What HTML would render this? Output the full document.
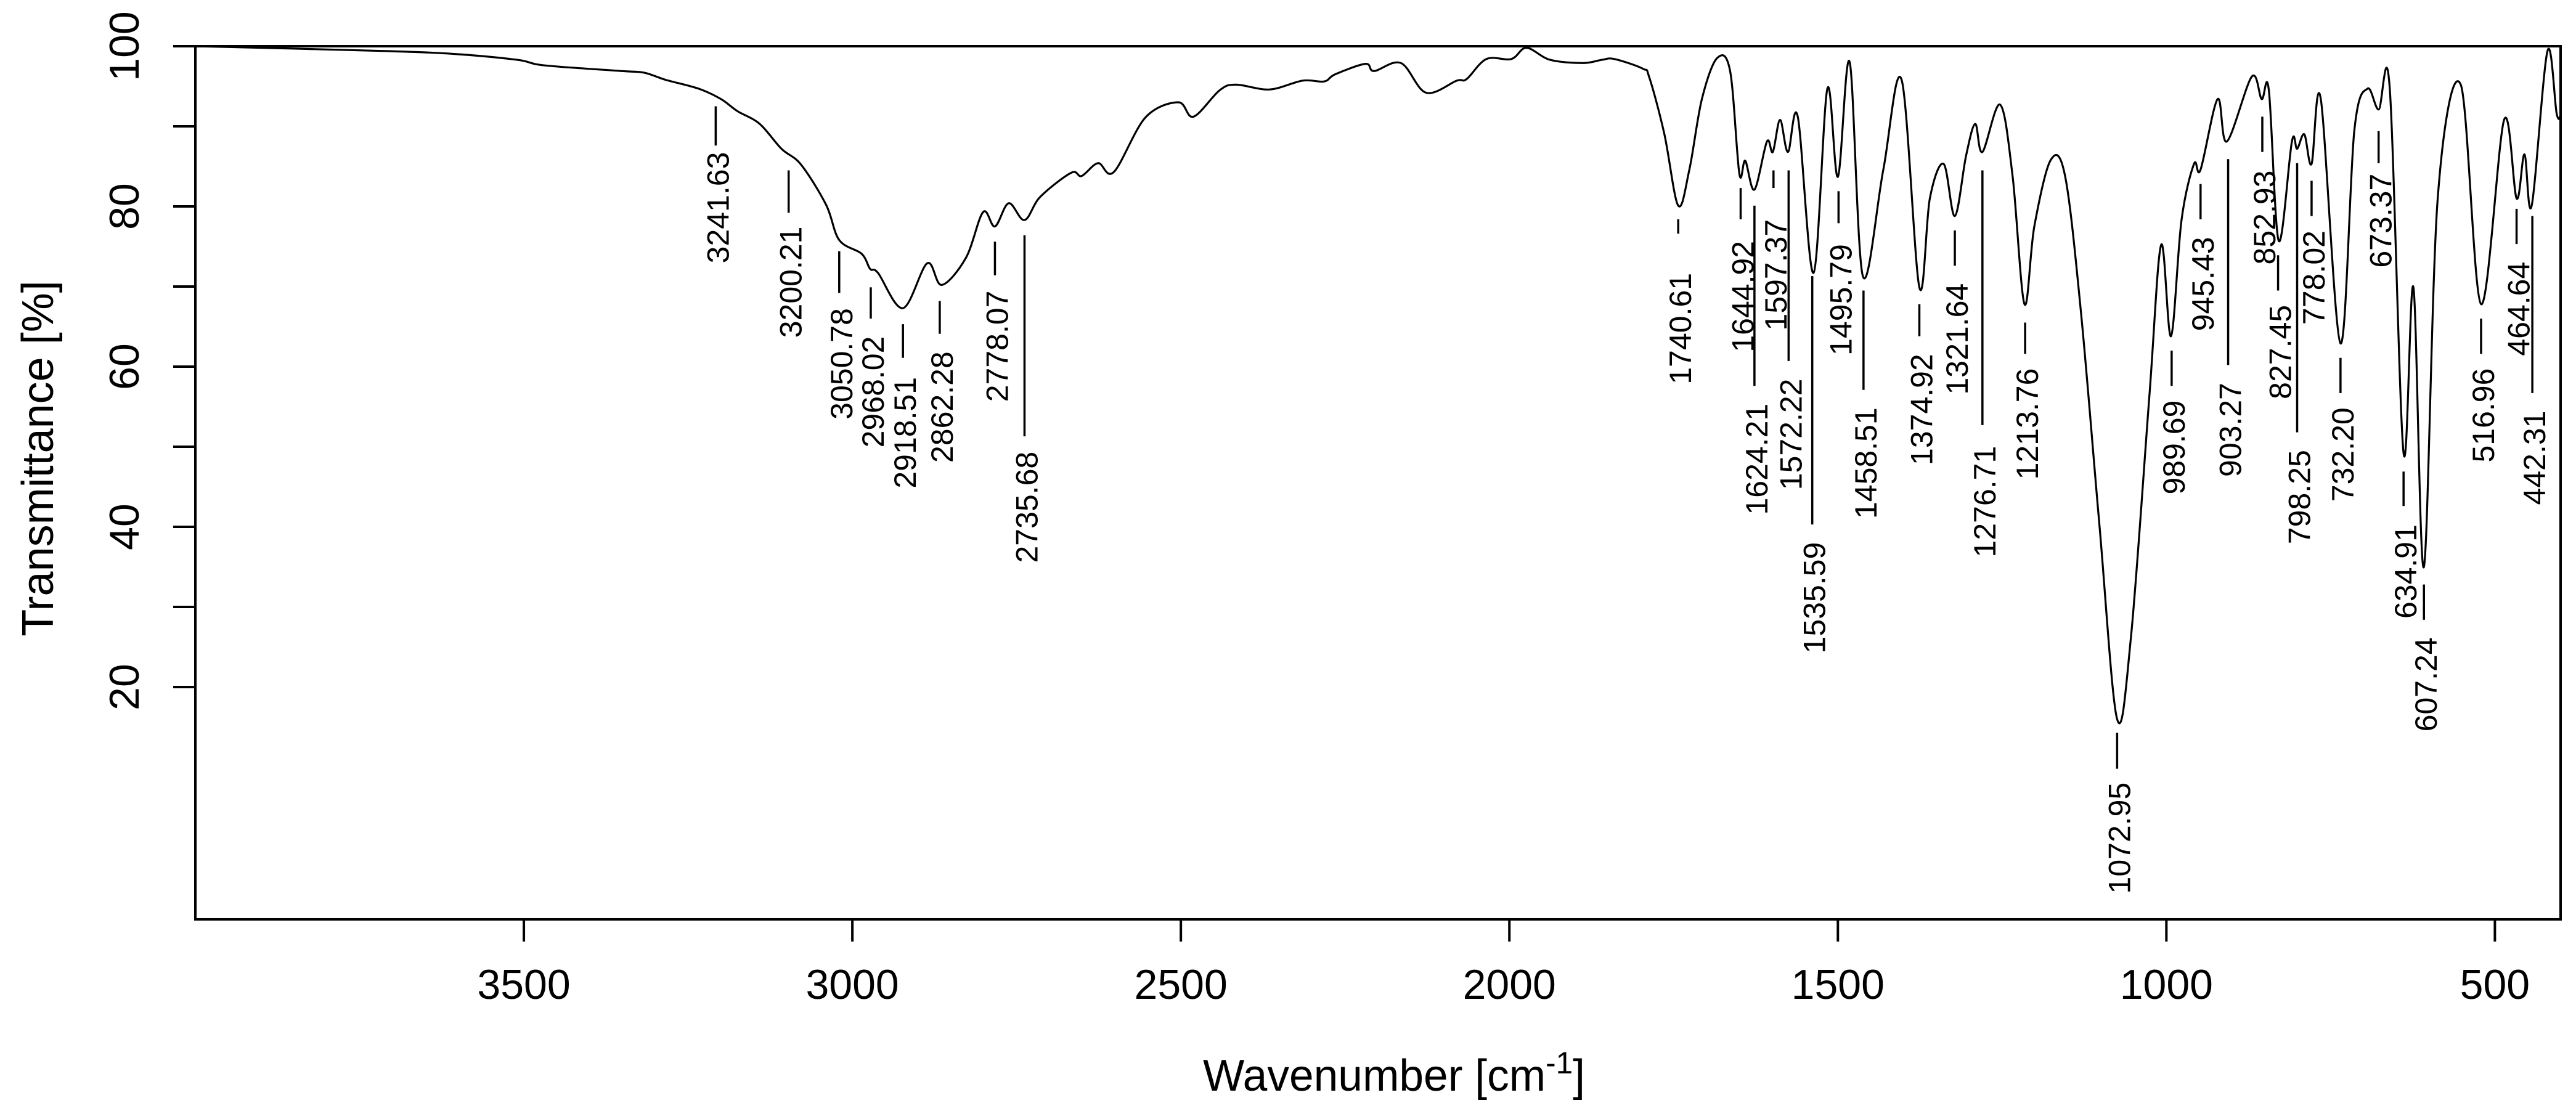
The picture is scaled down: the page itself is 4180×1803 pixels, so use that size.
<!DOCTYPE html>
<html><head><meta charset="utf-8"><style>
html,body{margin:0;padding:0;background:#fff;}
svg{display:block;font-family:"Liberation Sans",Arial,sans-serif;}
</style></head><body>
<svg id="chart" width="4180" height="1803" viewBox="0 0 4180 1803" xmlns="http://www.w3.org/2000/svg">
<rect width="4180" height="1803" fill="#fff"/>
<g id="plot"></g>
</svg>
<script>
// spectrum data: wavenumber [cm-1] and transmittance [%]
const specWn = [4000,3711,3600,3510,3468,3351,3317,3284,3234,3200,3175,3141,3108,3078,3040,3020,2986,2973,2961,2923,2886,2864,2827,2801,2783,2762,2738,2714,2667,2651,2626,2602,2554,2504,2481,2441,2416,2365,2315,2282,2265,2219,2206,2165,2127,2080,2065,2035,1997,1974,1938,1888,1859,1840,1797,1787,1764,1743,1726,1707,1684,1664,1650,1641,1627,1608,1599,1588,1576,1561,1537,1516,1500,1482,1462,1431,1403,1376,1360,1339,1322,1305,1291,1280,1253,1234,1216,1201,1176,1154,1130,1102,1075,1054,1026,1008,993,977,958,948,922,908,870,855,844,829,809,801,790,779,765,735,714,694,677,660,639,624,608,587,552,521,486,467,455,444,420,406,400];
const specT = [100,99.4,99.0,98.3,97.6,96.9,96.7,95.8,94.7,93.4,91.9,90.3,87.2,85.2,80.2,75.8,74.1,72.2,71.7,67.3,72.9,70.2,73.6,79.3,77.5,80.4,78.3,81.2,84.2,83.8,85.4,84.3,91.1,93.0,91.2,94.5,95.2,94.6,95.7,95.6,96.5,97.8,96.9,97.9,94.2,95.7,95.9,98.4,98.4,99.8,98.3,97.9,98.3,98.4,97.2,96.1,89.0,80.1,84.6,93.4,98.5,96.9,84.1,85.7,82.1,88.1,86.8,90.8,86.8,91.2,71.7,94.7,83.7,98.0,71.3,84.5,95.8,69.9,81.0,85.3,78.8,86.3,90.3,86.8,92.7,83.7,67.8,77.5,85.8,83.7,66.8,40.3,16.0,26.2,56.2,75.2,63.8,78.3,85.3,84.6,93.4,88.1,96.2,93.4,94.5,75.7,88.1,87.2,89.0,85.3,93.4,62.9,89.4,94.7,92.1,94.7,49.2,69.9,35.0,81.0,95.2,67.8,90.8,81.0,86.5,80.1,99.4,91.6,91.3];
// peak annotations
const peakLabels = ["3241.63","3200.21","3050.78","2968.02","2918.51","2862.28","2778.07","2735.68","1740.61","1644.92","1624.21","1597.37","1572.22","1535.59","1495.79","1458.51","1374.92","1321.64","1276.71","1213.76","1072.95","989.69","945.43","903.27","852.93","827.45","798.25","778.02","732.20","673.37","634.91","607.24","516.96","464.64","442.31"];
const peakWn = [3208,3097,3020,2972,2923,2867,2783,2738,1743,1648,1627,1598,1575,1539,1499,1461,1376,1322,1280,1215,1075,992,948,906,854,830,801,779,735,677,639,608,521,467,443];
const lineTopT = [92.5,84.5,74.4,69.9,65.3,68.2,75.6,76.4,78.4,82.3,80.1,84.5,84.5,71.3,81.9,69.5,67.8,77.0,84.5,65.5,14.3,62.0,82.8,85.9,91.2,73.9,85.4,83.2,61.1,89.4,46.9,32.8,66.0,79.7,78.8];
const lineBotT = [87.6,79.2,69.2,66.0,61.1,64.1,71.4,51.3,76.6,78.4,57.6,82.3,60.7,40.3,77.9,57.1,63.8,72.6,52.7,61.6,9.8,57.6,78.4,60.2,86.8,69.5,51.8,78.8,56.7,85.4,42.6,28.4,61.6,75.3,56.7];
const textTopT = [86.8,77.5,67.3,63.8,58.7,61.9,69.5,49.4,71.7,75.7,55.4,78.4,58.5,38.1,75.3,54.9,61.6,70.4,50.1,59.8,8.1,55.8,76.2,58.0,84.5,67.7,49.6,77.0,54.9,84.1,40.3,26.2,59.8,73.1,54.5];
const xTicks = [3500,3000,2500,2000,1500,1000,500];
const yTicks = [20,30,40,50,60,70,80,90,100];
const yTickLabels = [20,40,60,80,100];

const NS="http://www.w3.org/2000/svg";
const L=317,R=4155,T0=75,B=1492;
const X=wn=>L+(4000-wn)*(R-L)/3600;
const Y=t=>T0+(100-t)*(B-T0)/109;
const g=document.getElementById('plot');
function mk(tag,attrs){const e=document.createElementNS(NS,tag);for(const k in attrs)e.setAttribute(k,attrs[k]);g.appendChild(e);return e;}

const box=mk('rect',{x:L,y:T0,width:R-L,height:B-T0,fill:'none',stroke:'#000','stroke-width':4});



xTicks.forEach(v=>{
  const t=mk('line',{x1:X(v),x2:X(v),y1:B,y2:B+36,stroke:'#000','stroke-width':4});
  
  
  const tx=mk('text',{x:X(v),y:1621,'font-size':68,'text-anchor':'middle',fill:'#000'});
  tx.textContent=v;
  
  
});
yTicks.forEach(v=>{
  const t=mk('line',{x1:L-36,x2:L,y1:Y(v),y2:Y(v),stroke:'#000','stroke-width':4});
  
  
});
yTickLabels.forEach(v=>{
  const tx=mk('text',{x:0,y:0,'font-size':68,'text-anchor':'middle',fill:'#000',transform:`translate(225,${Y(v)}) rotate(-90)`});
  tx.textContent=v;
  
  
});

const yt=mk('text',{x:0,y:0,'font-size':72,'text-anchor':'middle',fill:'#000',transform:'translate(86,744) rotate(-90)'});
yt.textContent='Transmittance [%]';


const xt=mk('text',{x:1952,y:1770,'font-size':72,fill:'#000',textLength:620,lengthAdjust:'spacingAndGlyphs'});
xt.innerHTML='Wavenumber [cm<tspan dy="-28" font-size="50">-1</tspan><tspan dy="28">]</tspan>';



const pts=specWn.map((w,i)=>[X(w),Y(specT[i])]);
let d=`M${pts[0][0].toFixed(1)},${pts[0][1].toFixed(1)}`;
for(let i=0;i<pts.length-1;i++){
  const p0=pts[Math.max(0,i-1)],p1=pts[i],p2=pts[i+1],p3=pts[Math.min(pts.length-1,i+2)];
  const c1x=p1[0]+(p2[0]-p0[0])/6,c1y=p1[1]+(p2[1]-p0[1])/6;
  const c2x=p2[0]-(p3[0]-p1[0])/6,c2y=p2[1]-(p3[1]-p1[1])/6;
  d+=` C${c1x.toFixed(1)},${c1y.toFixed(1)} ${c2x.toFixed(1)},${c2y.toFixed(1)} ${p2[0].toFixed(1)},${p2[1].toFixed(1)}`;
}
const curve=mk('path',{d:d,fill:'none',stroke:'#000','stroke-width':3.2,'stroke-linejoin':'round'});



peakLabels.forEach((lab,i)=>{
  const x=X(peakWn[i]);
  const ln=mk('line',{x1:x,x2:x,y1:Y(lineTopT[i]),y2:Y(lineBotT[i]),stroke:'#000','stroke-width':3.5});
  
  
  const tx=mk('text',{x:0,y:0,dy:'0.36em','font-size':50,'text-anchor':'end',fill:'#000',transform:`translate(${x+3},${Y(textTopT[i])}) rotate(-90)`});
  tx.textContent=lab;
  
  
});
</script>
</body></html>
